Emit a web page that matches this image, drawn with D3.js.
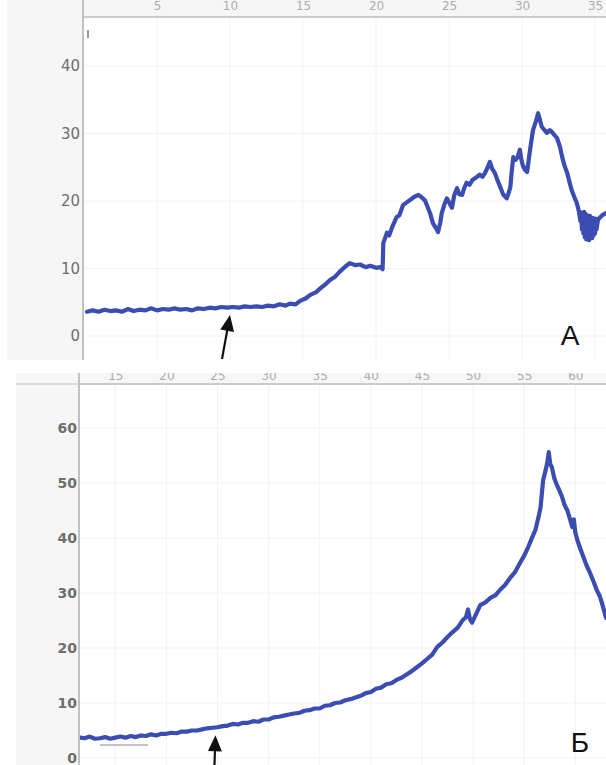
<!DOCTYPE html>
<html>
<head>
  <meta charset="utf-8">
  <script src="https://d3js.org/d3.v7.min.js"></script>
  <style>
    * { margin: 0; box-sizing: border-box; }
    body { background: #fff; }
    .ylab text { font: bold 14px "DejaVu Sans", sans-serif; fill: #6e6e6e; }
    .toplab text { font: 12px "DejaVu Sans", sans-serif; fill: #acacac; }
    .trace { fill: none; stroke: #3c4db2; stroke-width: 4.2; stroke-linejoin: round; stroke-linecap: round; }
    .grid line { stroke: #f0f2f3; stroke-width: 1; }
    .panel-letter { font: 28px "Liberation Sans", Arial, sans-serif; fill: #111; }
  </style>
</head>
<body>
<script>
// panel A: time, signal
const traceA = [
  [0.2,3.6],[0.6,3.8],[1.0,3.6],[1.4,3.9],[1.8,3.7],[2.2,3.8],[2.6,3.6],[3.0,4.0],[3.4,3.7],[3.8,3.9],
  [4.2,3.8],[4.6,4.1],[5.0,3.8],[5.4,4.0],[5.8,3.9],[6.2,4.1],[6.6,3.9],[7.0,4.0],[7.4,3.8],[7.8,4.1],
  [8.2,4.0],[8.6,4.2],[9.0,4.1],[9.4,4.3],[9.8,4.2],[10.2,4.3],[10.6,4.2],[11.0,4.4],[11.4,4.3],[11.8,4.4],
  [12.2,4.3],[12.6,4.5],[13.0,4.4],[13.4,4.7],[13.8,4.5],[14.1,4.8],[14.5,4.7],[14.8,5.2],[15.2,5.6],[15.5,6.1],
  [15.9,6.5],[16.2,7.1],[16.5,7.6],[16.85,8.3],[17.2,8.8],[17.5,9.5],[17.9,10.3],[18.2,10.8],[18.6,10.5],[18.9,10.6],
  [19.3,10.2],[19.6,10.4],[20.0,10.1],[20.3,10.2],[20.45,9.9],[20.5,13.8],[20.75,15.3],[20.9,14.9],[21.1,16.1],[21.4,17.6],
  [21.6,17.9],[21.85,19.4],[22.1,19.8],[22.3,20.1],[22.6,20.6],[22.9,20.9],[23.1,20.6],[23.35,20.1],[23.5,19.3],[23.7,18.2],
  [23.9,16.7],[24.1,16.0],[24.25,15.4],[24.4,16.8],[24.5,18.2],[24.7,19.6],[24.85,20.4],[25.0,19.8],[25.2,19.0],[25.35,20.8],
  [25.55,21.9],[25.7,21.0],[25.9,20.9],[26.05,22.0],[26.2,22.7],[26.4,22.4],[26.6,23.1],[26.8,23.4],[27.1,23.9],[27.3,23.6],
  [27.45,24.1],[27.65,25.0],[27.8,25.8],[27.95,24.8],[28.15,24.1],[28.3,23.2],[28.5,22.1],[28.7,21.0],[28.95,20.4],[29.1,21.3],
  [29.2,22.1],[29.3,24.5],[29.4,26.5],[29.55,26.1],[29.7,26.5],[29.85,27.6],[29.95,26.2],[30.05,25.3],[30.2,24.6],[30.35,24.3],
  [30.45,26.0],[30.55,27.6],[30.75,30.5],[30.95,31.8],[31.1,33.0],[31.2,32.2],[31.35,31.0],[31.5,30.6],[31.7,30.1],[31.9,30.5],
  [32.05,30.2],[32.25,29.7],[32.4,29.3],[32.6,28.0],[32.75,26.5],[32.9,25.3],[33.1,24.1],[33.25,22.8],[33.4,21.6],[33.6,20.5],
  [33.75,19.7],[33.9,18.4],[34.0,17.0],[34.05,18.3],[34.1,15.8],[34.15,18.0],[34.2,15.2],[34.25,18.4],[34.3,14.6],[34.35,18.1],
  [34.4,14.3],[34.45,17.9],[34.5,14.5],[34.55,17.7],[34.6,14.2],[34.65,17.8],[34.7,14.6],[34.75,17.4],[34.8,14.5],[34.85,17.5],
  [34.9,14.9],[34.95,17.3],[35.0,15.2],[35.05,17.4],[35.1,15.8],[35.2,17.2],[35.35,17.6],[35.5,17.9],[35.75,18.2]
];
// panel B: time, signal
const traceB = [
  [11.6,3.7],[12.0,3.6],[12.5,3.9],[13.0,3.5],[13.5,3.6],[14.0,3.8],[14.5,3.5],[15.0,3.7],[15.5,3.9],[16.0,3.7],
  [16.5,4.0],[17.0,3.8],[17.5,4.1],[18.0,4.0],[18.5,4.3],[19.0,4.1],[19.5,4.4],[20.0,4.4],[20.5,4.6],[21.0,4.5],
  [21.5,4.8],[22.0,4.8],[22.5,5.0],[23.0,5.0],[23.5,5.2],[24.0,5.4],[24.5,5.5],[25.0,5.6],[25.5,5.8],[26.0,5.9],
  [26.5,6.2],[27.0,6.1],[27.5,6.4],[28.0,6.4],[28.5,6.7],[29.0,6.6],[29.5,7.0],[30.0,7.0],[30.5,7.4],[31.0,7.5],
  [31.5,7.7],[32.0,7.9],[32.5,8.1],[33.0,8.2],[33.5,8.6],[34.0,8.7],[34.5,9.0],[35.0,9.0],[35.5,9.5],[36.0,9.6],
  [36.5,10.0],[37.0,10.1],[37.5,10.5],[38.0,10.7],[38.5,11.0],[39.0,11.3],[39.5,11.8],[40.0,12.0],[40.5,12.6],[41.0,12.8],
  [41.5,13.4],[42.0,13.6],[42.5,14.2],[43.0,14.6],[43.5,15.2],[44.0,15.8],[44.5,16.5],[45.0,17.2],[45.5,18.0],[46.0,18.8],
  [46.5,20.2],[47.0,21.0],[47.5,22.0],[48.0,22.9],[48.5,23.7],[49.0,25.1],[49.3,25.6],[49.5,27.0],[49.7,25.2],[49.9,24.6],
  [50.3,26.2],[50.7,27.8],[51.2,28.3],[51.7,29.1],[52.2,29.6],[52.6,30.5],[53.1,31.4],[53.6,32.7],[54.1,33.8],[54.6,35.5],
  [55.0,36.8],[55.4,38.4],[55.8,40.2],[56.1,41.5],[56.4,43.8],[56.6,45.6],[56.85,50.5],[57.05,52.0],[57.25,53.6],[57.4,55.6],
  [57.55,53.4],[57.7,52.9],[57.95,50.8],[58.2,49.6],[58.45,48.6],[58.7,47.5],[58.95,46.0],[59.2,45.1],[59.45,43.6],[59.7,42.0],
  [59.85,43.4],[60.0,41.0],[60.2,39.6],[60.5,38.0],[60.8,36.5],[61.1,35.0],[61.45,33.6],[61.8,32.0],[62.1,30.5],[62.4,29.4],
  [62.6,28.2],[63.0,25.5]
];

const topTicksA = [5, 10, 15, 20, 25, 30, 35];
const leftTicksA = [0, 10, 20, 30, 40];
const topTicksB = [15, 20, 25, 30, 35, 40, 45, 50, 55, 60];
const leftTicksB = [0, 10, 20, 30, 40, 50, 60];
const panelLetters = ["А", "Б"];
const arrowAt = [[10.0, 4.3], [24.8, 5.6]]; // marked points (time, level)

const W = 606, H = 765;
const svg = d3.select("body").append("svg")
  .attr("width", W).attr("height", H);

const panels = [
  { id: "A", trace: traceA, top: topTicksA, left: leftTicksA, letter: panelLetters[0],
    frame: { x0: 7, y0: 0, y1: 360 }, plot: { x: 84, y: 17, w: W - 84, h: 343 }, topLabY: 10,
    xDom: [0, 35.75], yDom: [-3.55, 47.26], labX: 80, labFont: "15px", labWeight: "normal",
    arrow: arrowAt[0], tail: [-8, 44], letterPos: [570, 345] },
  { id: "B", trace: traceB, top: topTicksB, left: leftTicksB, letter: panelLetters[1],
    frame: { x0: 16, y0: 373, y1: 765 }, plot: { x: 80, y: 384, w: W - 80, h: 381 }, topLabY: 380,
    xDom: [11.55, 63.0], yDom: [-1.27, 68], labX: 77, labFont: "14px", labWeight: "bold",
    arrow: arrowAt[1], tail: [-1, 30], letterPos: [580, 752] }
];

panels.forEach(p => {
  const g = svg.append("g");
  const pl = p.plot;
  const x = d3.scaleLinear().domain(p.xDom).range([pl.x, pl.x + pl.w]);
  const y = d3.scaleLinear().domain(p.yDom).range([pl.y + pl.h, pl.y]);

  // grey instrument frame
  g.append("rect").attr("x", p.frame.x0).attr("y", p.frame.y0)
    .attr("width", W - p.frame.x0).attr("height", p.frame.y1 - p.frame.y0)
    .attr("fill", "#f6f6f6");
  g.append("rect").attr("x", pl.x).attr("y", pl.y)
    .attr("width", pl.w).attr("height", pl.h).attr("fill", "#fff");

  // faint grid
  const grid = g.append("g").attr("class", "grid");
  grid.selectAll(".gx").data(p.top).enter().append("line")
    .attr("x1", d => x(d)).attr("x2", d => x(d))
    .attr("y1", pl.y).attr("y2", pl.y + pl.h);
  grid.selectAll(".gy").data(p.left).enter().append("line")
    .attr("x1", pl.x).attr("x2", pl.x + pl.w)
    .attr("y1", d => y(d)).attr("y2", d => y(d));

  // axis rules
  g.append("line").attr("x1", pl.x).attr("x2", W).attr("y1", pl.y).attr("y2", pl.y)
    .attr("stroke", "#c9cdd0").attr("stroke-width", 2);
  g.append("line").attr("x1", pl.x - 1).attr("x2", pl.x - 1).attr("y1", p.frame.y0).attr("y2", p.frame.y1)
    .attr("stroke", "#c2c2c2").attr("stroke-width", 2);

  // top tick labels, cut off by the frame edge
  const clipId = "clipTop" + p.id;
  svg.append("clipPath").attr("id", clipId).append("rect")
    .attr("x", pl.x).attr("y", p.frame.y0).attr("width", pl.w).attr("height", pl.y - p.frame.y0 - 2);
  g.append("g").attr("clip-path", `url(#${clipId})`)
    .append("g").attr("class", "toplab")
    .attr("transform", `translate(0,${p.topLabY})`)
    .call(d3.axisTop(x).tickValues(p.top).tickSize(0).tickPadding(0))
    .call(a => a.select(".domain").remove());

  // left tick labels
  const yl = g.append("g").attr("class", "ylab")
    .attr("transform", `translate(${p.labX},0)`)
    .call(d3.axisLeft(y).tickValues(p.left).tickSize(0).tickPadding(0));
  yl.select(".domain").remove();
  yl.selectAll("text").style("font-size", p.labFont).style("font-weight", p.labWeight);

  // signal trace
  const clipP = "clipPlot" + p.id;
  svg.append("clipPath").attr("id", clipP).append("rect")
    .attr("x", pl.x).attr("y", pl.y).attr("width", pl.w).attr("height", pl.h);
  g.append("path").datum(p.trace)
    .attr("class", "trace")
    .attr("clip-path", `url(#${clipP})`)
    .attr("d", d3.line().x(d => x(d[0])).y(d => y(d[1])));

  // arrow marking the point
  const tipX = x(p.arrow[0]), tipY = y(p.arrow[1]) + 8;
  const tx = tipX + p.tail[0], ty = tipY + p.tail[1];
  const ang = Math.atan2(ty - tipY, tx - tipX);
  g.append("line").attr("x1", tx).attr("y1", ty)
    .attr("x2", tipX + Math.cos(ang) * 10).attr("y2", tipY + Math.sin(ang) * 10)
    .attr("stroke", "#111").attr("stroke-width", 2.2);
  const hl = 16, hw = 7;
  const bx = tipX + Math.cos(ang) * hl, by = tipY + Math.sin(ang) * hl;
  const nx = -Math.sin(ang) * hw, ny = Math.cos(ang) * hw;
  g.append("path")
    .attr("d", `M${tipX},${tipY}L${bx + nx},${by + ny}L${bx - nx},${by - ny}Z`)
    .attr("fill", "#111");

  g.append("text").attr("class", "panel-letter")
    .attr("x", p.letterPos[0]).attr("y", p.letterPos[1])
    .attr("text-anchor", "middle").text(p.letter);
});

// small marks seen on the originals
svg.append("line").attr("x1", 88).attr("x2", 88).attr("y1", 30).attr("y2", 38)
  .attr("stroke", "#777").attr("stroke-width", 1.5);
svg.append("line").attr("x1", 100).attr("x2", 148).attr("y1", 745).attr("y2", 745)
  .attr("stroke", "#c4c4c4").attr("stroke-width", 2);
svg.append("line").attr("x1", 16).attr("x2", 79).attr("y1", 384).attr("y2", 384)
  .attr("stroke", "#d0d0d0").attr("stroke-width", 1.5);
</script>
</body>
</html>
